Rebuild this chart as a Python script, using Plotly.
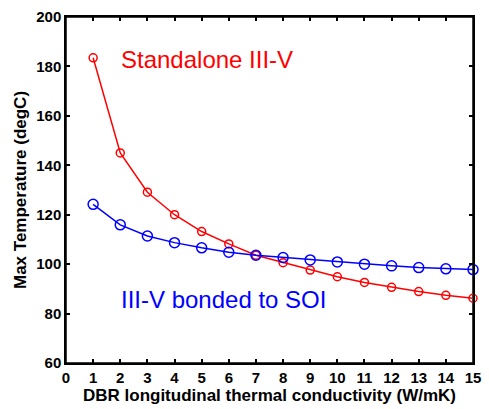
import plotly.graph_objects as go

k = [1, 2, 3, 4, 5, 6, 7, 8, 9, 10, 11, 12, 13, 14, 15]
standalone = [183.5, 145.0, 129.1, 120.0, 113.2, 108.2, 103.6, 100.6, 97.6, 94.9, 92.6, 90.6, 88.9, 87.4, 86.2]
bonded = [124.2, 115.9, 111.4, 108.7, 106.6, 104.8, 103.6, 102.7, 101.7, 100.9, 100.0, 99.3, 98.6, 98.1, 97.8]
x_ticks = list(range(0, 16))
y_ticks = [60, 80, 100, 120, 140, 160, 180, 200]
x_range = [0, 15]
y_range = [60, 200]

fig = go.Figure()

# axes box, drawn through the axis ranges
fig.add_trace(go.Scatter(
    x=[x_range[0], x_range[1], x_range[1], x_range[0], x_range[0]],
    y=[y_range[0], y_range[0], y_range[1], y_range[1], y_range[0]],
    mode="lines", line=dict(color="#000000", width=1.5), hoverinfo="skip", cliponaxis=False))

fig.add_trace(go.Scatter(x=k, y=standalone, mode="lines+markers", cliponaxis=False,
                         line=dict(color="#ff0000", width=1.5),
                         marker=dict(symbol="circle-open", size=8, color="#ff0000", line=dict(width=1.5))))
fig.add_trace(go.Scatter(x=k, y=bonded, mode="lines+markers", cliponaxis=False,
                         line=dict(color="#0000ff", width=1.5),
                         marker=dict(symbol="circle-open", size=10, color="#0000ff", line=dict(width=1.5))))

fig.add_annotation(x=1.95, y=182.7, text="Standalone III-V", showarrow=False, xanchor="left",
                   font=dict(family="Liberation Sans, Arial", size=24, color="#ff0000"))
fig.add_annotation(x=1.95, y=85.5, text="III-V bonded to SOI", showarrow=False, xanchor="left",
                   font=dict(family="Liberation Sans, Arial", size=24, color="#0000ff"))

axis_common = dict(showgrid=False, zeroline=False, showline=True, linecolor="#000000", linewidth=1.5,
                   mirror="ticks", ticks="inside", ticklen=4, tickwidth=1.5, tickcolor="#000000",
                   ticklabeloverflow="allow",
                   tickfont=dict(family="Liberation Sans, Arial", size=15, color="#000000"))

fig.update_xaxes(range=x_range, tickvals=x_ticks, ticktext=["<b>%d</b>" % v for v in x_ticks],
                 title=dict(text="<b>DBR longitudinal thermal conductivity (W/mK)</b>", standoff=3,
                            font=dict(family="Liberation Sans, Arial", size=17, color="#000000")),
                 **axis_common)
fig.update_yaxes(range=y_range, tickvals=y_ticks, ticktext=["<b>%d</b>" % v for v in y_ticks],
                 title=dict(text="<b>Max Temperature (degC)</b>", standoff=5,
                            font=dict(family="Liberation Sans, Arial", size=17, color="#000000")),
                 **axis_common)

fig.update_layout(width=489, height=409, margin=dict(l=66, r=8, t=17, b=43),
                  paper_bgcolor="white", plot_bgcolor="white", showlegend=False)

fig.write_html("out.html", config={"displayModeBar": False},
               post_script="document.body.style.margin='0';document.body.style.padding='0';"
                           "document.body.style.overflow='hidden';"
                           "document.documentElement.style.overflow='hidden';")
